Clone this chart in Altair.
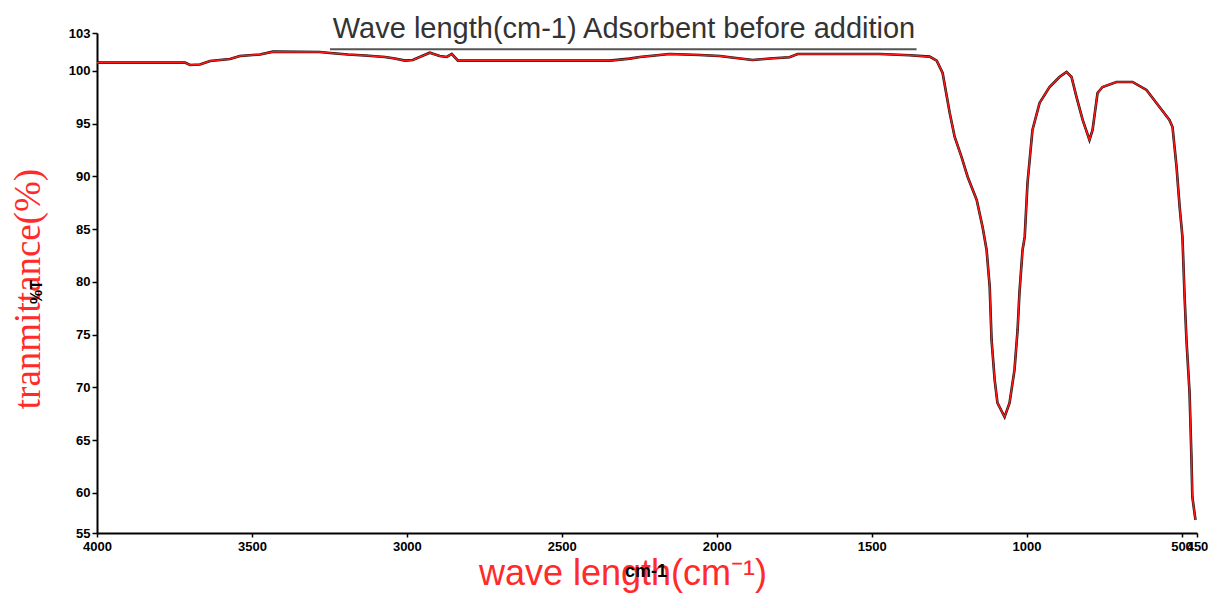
import altair as alt
import pandas as pd

# ---- data ----
wavenumber = [4000, 3716, 3700, 3668, 3635, 3571, 3539, 3474, 3432, 3281, 3248, 3190,
              3135, 3071, 3039, 3006, 2981, 2926, 2894, 2871, 2855, 2835, 2345, 2281,
              2248, 2184, 2152, 2055, 1990, 1958, 1884, 1829, 1765, 1739, 1571, 1474,
              1377, 1313, 1290, 1271, 1248, 1232, 1210, 1190, 1161, 1142, 1129, 1119,
              1113, 1103, 1094, 1071, 1055, 1039, 1029, 1023, 1013, 1006, 997, 981,
              958, 926, 894, 871, 855, 839, 819, 797, 787, 771, 755, 710, 658, 613,
              571, 539, 529, 516, 506, 497, 490, 484, 474, 468, 465, 455]
transmittance = [100.79, 100.79, 100.57, 100.62, 100.95, 101.14, 101.42, 101.56, 101.83,
                 101.80, 101.71, 101.56, 101.47, 101.33, 101.18, 100.98, 101.04, 101.73,
                 101.42, 101.33, 101.61, 100.98, 100.98, 101.17, 101.33, 101.52, 101.61,
                 101.52, 101.42, 101.30, 101.04, 101.18, 101.30, 101.61, 101.61, 101.61,
                 101.49, 101.36, 100.98, 99.81, 96.02, 93.74, 91.85, 89.95, 87.77, 85.21,
                 83.03, 79.53, 74.50, 70.71, 68.53, 67.20, 68.53, 71.66, 75.45, 78.96,
                 83.03, 84.27, 89.38, 94.41, 96.97, 98.48, 99.43, 99.91, 99.43, 97.54,
                 95.36, 93.46, 94.41, 97.91, 98.48, 98.96, 98.96, 98.20, 96.59, 95.36,
                 94.69, 90.90, 87.11, 84.27, 78.58, 74.50, 69.48, 63.41, 59.62, 57.44]

x_ticks = [4000, 3500, 3000, 2500, 2000, 1500, 1000, 500, 450]
y_ticks = [56.2, 60, 65, 70, 75, 80, 85, 90, 95, 100, 103.6]
x_domain = [4000, 450]
y_domain = [56.2, 103.6]

# grey reference line under the title
ref_x = [3248]
ref_x2 = [1355]
ref_y = [102.05]

title_text = "Wave length(cm-1) Adsorbent before addition"
x_title = "wave length(cm\u207b\u00b9)"
x_unit = "cm-1"
y_title = "tranmittance(%)"
y_unit = "%T"

df = pd.DataFrame({"wn": wavenumber, "t": transmittance})
ref = pd.DataFrame({"x": ref_x, "x2": ref_x2, "y": ref_y})

W, H = 1100, 500

x_enc = alt.X("wn:Q", scale=alt.Scale(domain=x_domain, nice=False, zero=False),
              axis=alt.Axis(values=x_ticks, title=None, format="d", labelOverlap=False,
                            labelFlush=False, tickSize=4, labelPadding=3))
y_enc = alt.Y("t:Q", scale=alt.Scale(domain=y_domain, nice=False, zero=False),
              axis=alt.Axis(values=y_ticks, title=None, tickSize=5, labelPadding=2,
                            labelExpr="datum.value < 57 ? '55' : (datum.value > 103 ? '103' : datum.label)"))

base = alt.Chart(df)
black_line = base.mark_line(color="#111111", strokeWidth=2.6).encode(x=x_enc, y=y_enc)
red_line = base.mark_line(color="#ff1a1a", strokeWidth=1.5).encode(x="wn:Q", y="t:Q")

ref_rule = alt.Chart(ref).mark_rule(color="#555555", strokeWidth=2).encode(
    x="x:Q", x2="x2:Q", y="y:Q")


def label(text, x, y, **kw):
    return alt.Chart(pd.DataFrame({"s": [text]})).mark_text(**kw).encode(
        x=alt.value(x), y=alt.value(y), text="s:N")


title_mark = label(title_text, 527, 5, font="Liberation Sans", fontSize=29,
                   color="#333333", align="center", baseline="alphabetic")
xt_mark = label(x_title, 526, 552, font="Liberation Sans", fontSize=36,
                color="#ff2a2a", align="center", baseline="alphabetic")
xu_mark = label(x_unit, 549, 544, font="Liberation Sans", fontSize=18, fontWeight="bold",
                color="#000000", align="center", baseline="alphabetic")
yt_mark = label(y_title, -57, 256, font="Liberation Serif", fontSize=37, angle=270,
                color="#ff2a2a", align="center", baseline="alphabetic")
yu_mark = label(y_unit, -55, 259, font="Liberation Sans", fontSize=16, fontWeight="bold",
                angle=270, color="#000000", align="center", baseline="alphabetic")

chart = alt.layer(
    black_line, red_line, ref_rule, title_mark, xt_mark, xu_mark, yt_mark, yu_mark
).properties(
    width=W, height=H,
    autosize=alt.AutoSizeParams(type="none"),
    padding={"left": 89, "top": 25, "right": 18, "bottom": 60},
    background="white",
).configure_view(stroke=None).configure_axis(
    grid=False, domainColor="#000000", domainWidth=2, tickColor="#000000", tickWidth=1.5,
    labelFont="Liberation Sans", labelFontWeight="bold", labelFontSize=13,
    labelColor="#000000",
)

chart.save("out.html", embed_options={"renderer": "svg", "actions": False})
